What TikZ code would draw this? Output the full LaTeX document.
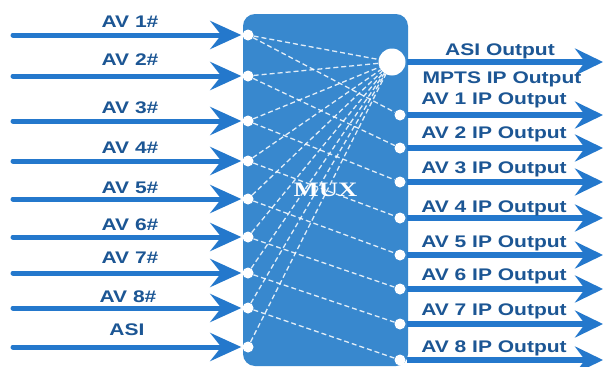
\documentclass[tikz,border=0pt]{standalone}
\usepackage{fontspec}
\usetikzlibrary{arrows.meta}
\newfontfamily\labfont[FakeStretch=1.25]{Liberation Sans}
\newfontfamily\muxfont[FakeStretch=1.3]{Liberation Serif}
\definecolor{boxblue}{RGB}{56,136,206}
\definecolor{arrblue}{RGB}{36,120,204}
\definecolor{txtblue}{RGB}{28,86,148}
\begin{document}
\begin{tikzpicture}[x=1pt,y=-1pt,
  lab/.style={font={\labfont\bfseries\fontsize{16.8}{18}\selectfont}, text=txtblue, inner sep=0pt, anchor=base},
  port/.style={circle, fill=white, minimum size=11pt, inner sep=0pt},
  bigport/.style={circle, fill=white, minimum size=27pt, inner sep=0pt},
  inarrow/.style={draw=arrblue, line width=5pt, line cap=round, shorten >=1pt, -{Stealth[length=31pt,width=28pt,inset=11pt]}},
  outarrow/.style={draw=arrblue, line width=5.5pt, -{Stealth[length=28pt,width=27pt,inset=10pt]}},
  link/.style={draw=white, line width=1.3pt, dash pattern=on 5pt off 3pt, opacity=0.85},
  muxbox/.style={fill=boxblue, rounded corners=12pt, minimum width=165pt, minimum height=352pt, inner sep=0pt,
    text=white, font={\muxfont\bfseries\fontsize{20.5}{22}\selectfont}}
]
\useasboundingbox[fill=white] (0,0) rectangle (606,367);

% MUX box
\node[muxbox] (mux) at (325.5,190) {\raisebox{-2pt}{MUX}};

% input ports
\foreach \i/\y in {1/35,2/76,3/121,4/161,5/199,6/237,7/273,8/308,9/347}{
  \node[port] (in\i) at (248,\y) {};
  \coordinate (s\i) at (13,\y);
}
% output ports
\node[bigport] (out0) at (392,62) {};
\foreach \i/\y in {1/115,2/148,3/182,4/218,5/255,6/289,7/324,8/360}{
  \node[port] (out\i) at (400,\y) {};
}
\foreach \i/\y in {0/62,1/115,2/148,3/182,4/218,5/255,6/289,7/324,8/360}{
  \coordinate (b\i) at (407,\y);
  \coordinate (e\i) at (603,\y);
}

% dashed links
\foreach \i in {1,...,9}{
  \draw[link] (in\i) -- (out0);
}
\foreach \i in {1,...,8}{
  \draw[link] (in\i) -- (out\i);
}

% input arrows
\foreach \i in {1,...,9}{
  \draw[inarrow] (s\i) -- (in\i.west);
}
% output arrows
\foreach \i in {0,...,8}{
  \draw[outarrow] (b\i) -- (e\i);
}

% input labels
\node[lab] (l1) at (130,27) {AV 1\#};
\node[lab] (l2) at (130,65) {AV 2\#};
\node[lab] (l3) at (130,113) {AV 3\#};
\node[lab] (l4) at (130,153) {AV 4\#};
\node[lab] (l5) at (130,193) {AV 5\#};
\node[lab] (l6) at (130,230) {AV 6\#};
\node[lab] (l7) at (130,263) {AV 7\#};
\node[lab] (l8) at (128,302) {AV 8\#};
\node[lab] (l9) at (127,335) {ASI};

% output labels
\node[lab] (o0) at (500,55) {ASI Output};
\node[lab] (om) at (502,83) {MPTS IP Output};
\node[lab] (o1) at (494,104) {AV 1 IP Output};
\node[lab] (o2) at (494,138) {AV 2 IP Output};
\node[lab] (o3) at (494,173) {AV 3 IP Output};
\node[lab] (o4) at (494,212) {AV 4 IP Output};
\node[lab] (o5) at (494,247) {AV 5 IP Output};
\node[lab] (o6) at (494,280) {AV 6 IP Output};
\node[lab] (o7) at (494,315) {AV 7 IP Output};
\node[lab] (o8) at (494,352) {AV 8 IP Output};
\end{tikzpicture}
\end{document}
